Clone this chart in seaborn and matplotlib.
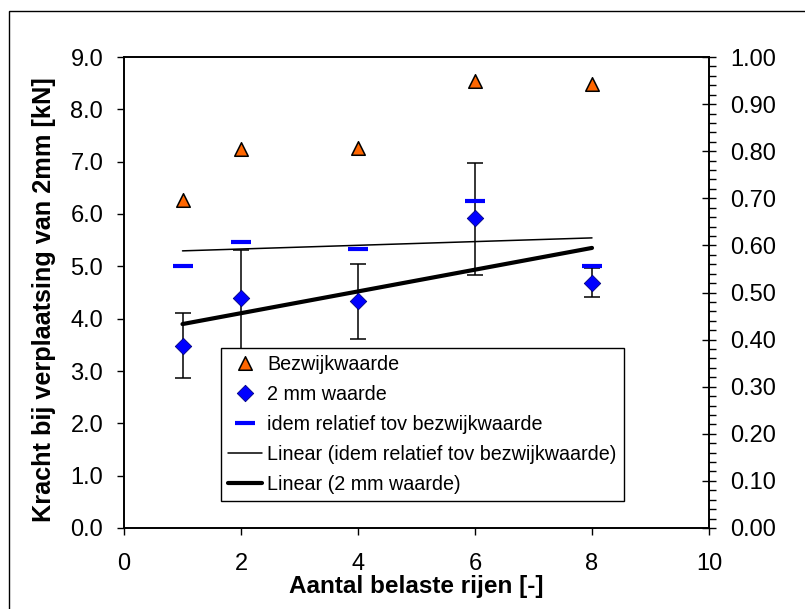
import numpy as np
import pandas as pd
import matplotlib
matplotlib.use("Agg")
import matplotlib.pyplot as plt
from matplotlib.patches import Rectangle
from matplotlib.ticker import MultipleLocator, FormatStrFormatter
import seaborn as sns

# Data
rijen = [1, 2, 4, 6, 8]
bezwijkwaarde = [6.27, 7.24, 7.27, 8.54, 8.48]
waarde_2mm = [3.48, 4.39, 4.33, 5.92, 4.69]
fout_onder = [0.61, 1.00, 0.72, 1.09, 0.27]
fout_boven = [0.63, 0.92, 0.71, 1.06, 0.27]
relatief = [0.556, 0.607, 0.592, 0.694, 0.556]

data = pd.DataFrame({"rijen": rijen, "bezwijk": bezwijkwaarde,
                     "w2mm": waarde_2mm, "rel": relatief})

sns.set_theme(style="white")
plt.rcParams["font.family"] = ["Liberation Sans", "DejaVu Sans"]
plt.rcParams["text.color"] = "black"
plt.rcParams["axes.labelcolor"] = "black"
plt.rcParams["xtick.color"] = "black"
plt.rcParams["ytick.color"] = "black"

fs = 17
fig = plt.figure(figsize=(8.05, 6.09), dpi=100)
ax = fig.add_axes([124 / 805, 1 - 528 / 609, 585 / 805, 471 / 609])
ax2 = ax.twinx()

# left axis: force values
ax.errorbar(data["rijen"], data["w2mm"], yerr=[fout_onder, fout_boven],
            fmt="none", ecolor="black", elinewidth=1.1, capsize=5.5,
            capthick=1.1, zorder=2)
sns.scatterplot(data=data, x="rijen", y="bezwijk", marker="^", s=95,
                color="#FF6600", edgecolor="black", linewidth=1.1,
                label="Bezwijkwaarde", legend=False, ax=ax, zorder=3)
sns.scatterplot(data=data, x="rijen", y="w2mm", marker="D", s=70,
                color="#0000FF", edgecolor="#000080", linewidth=0.6,
                label="2 mm waarde", legend=False, ax=ax, zorder=3)
sns.regplot(data=data, x="rijen", y="w2mm", scatter=False, ci=None,
            truncate=True, ax=ax, label="Linear (2 mm waarde)",
            line_kws=dict(color="black", lw=3))

# right axis: relative values
sns.scatterplot(data=data, x="rijen", y="rel", marker="_", s=190,
                color="#0000FF", linewidth=3, legend=False,
                label="idem relatief tov bezwijkwaarde", ax=ax2, zorder=3)
sns.regplot(data=data, x="rijen", y="rel", scatter=False, ci=None,
            truncate=True, ax=ax2,
            label="Linear (idem relatief tov bezwijkwaarde)",
            line_kws=dict(color="black", lw=1.1))

ax.set_xlim(0, 10)
ax.set_ylim(0, 9)
ax2.set_ylim(0, 1)
ax.xaxis.set_major_locator(MultipleLocator(2))
ax.yaxis.set_major_locator(MultipleLocator(1))
ax.yaxis.set_major_formatter(FormatStrFormatter("%.1f"))
ax2.yaxis.set_major_locator(MultipleLocator(0.1))
ax2.yaxis.set_minor_locator(MultipleLocator(0.02))
ax2.yaxis.set_major_formatter(FormatStrFormatter("%.2f"))

ax.tick_params(axis="y", direction="out", length=5, width=1, labelsize=fs,
               pad=10, left=True)
ax.tick_params(axis="x", direction="out", length=5, width=1, labelsize=fs,
               pad=13, bottom=True)
ax2.tick_params(axis="y", which="major", direction="inout", length=10,
                width=1, labelsize=fs, pad=10, right=True)
ax2.tick_params(axis="y", which="minor", direction="out", length=5,
                width=1, right=True)

for a in (ax, ax2):
    for sp in a.spines.values():
        sp.set_color("black")
        sp.set_linewidth(1.2)

ax.set_xlabel("Aantal belaste rijen [-]", fontsize=17.5, fontweight="bold",
              labelpad=0)
ax.set_ylabel("Kracht bij verplaatsing van 2mm [kN]", fontsize=18.2,
              fontweight="bold")
ax.yaxis.set_label_coords(-0.116, 0.485)
ax2.set_ylabel("")

h1, l1 = ax.get_legend_handles_labels()
h2, l2 = ax2.get_legend_handles_labels()
lookup = dict(zip(l1 + l2, h1 + h2))
order = ["Bezwijkwaarde", "2 mm waarde", "idem relatief tov bezwijkwaarde",
         "Linear (idem relatief tov bezwijkwaarde)", "Linear (2 mm waarde)"]
leg = ax2.legend([lookup[k] for k in order], order, loc="lower left",
                 bbox_to_anchor=(0.166, 0.057), borderaxespad=0,
                 fontsize=14.2, frameon=True, fancybox=False, framealpha=1,
                 edgecolor="black", handlelength=1.7, handletextpad=0.3,
                 borderpad=0.35, labelspacing=0.56, scatterpoints=1,
                 scatteryoffsets=[0.5])
leg.get_frame().set_linewidth(1)
leg.set_zorder(10)

# outer chart border
fig.add_artist(Rectangle((9 / 805, -0.1), 1.0, 1.1 - 11 / 609,
                         transform=fig.transFigure, fill=False,
                         edgecolor="black", linewidth=1, clip_on=False))

fig.savefig("out.png", dpi=100)
